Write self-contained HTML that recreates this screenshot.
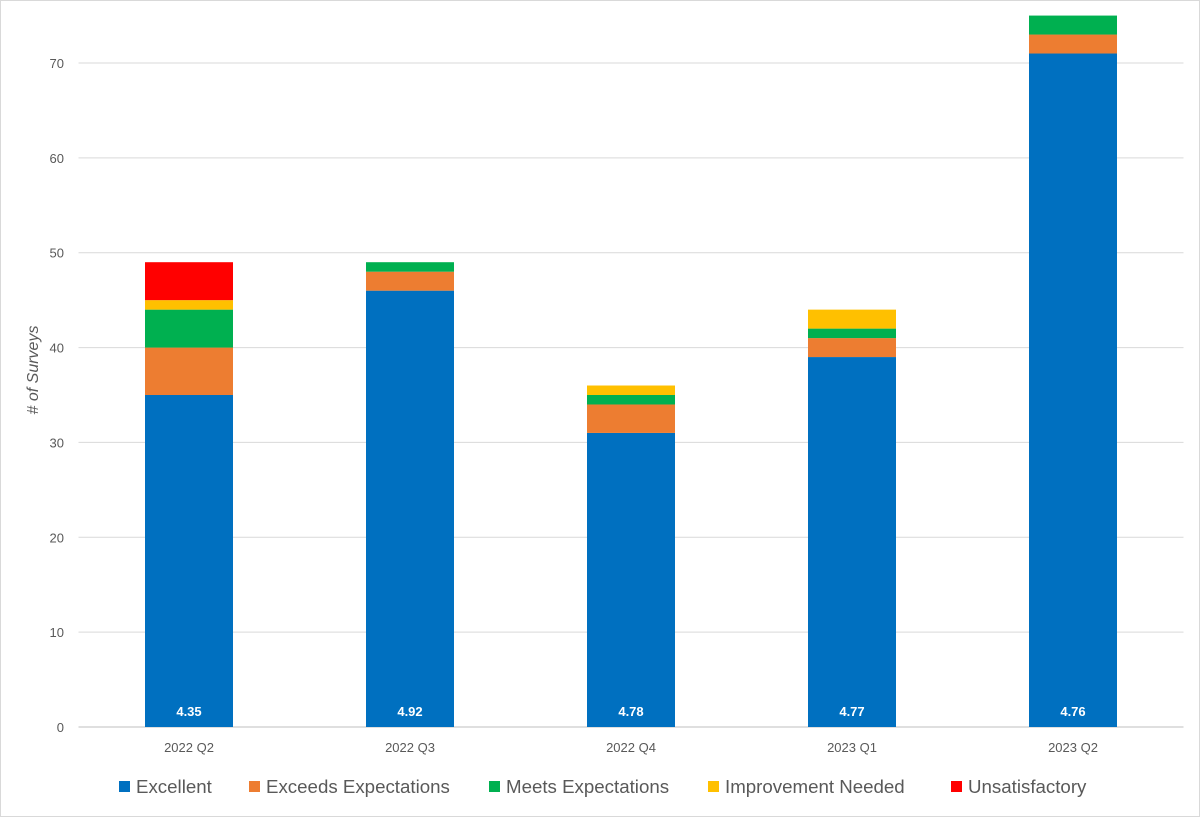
<!DOCTYPE html>
<html><head><meta charset="utf-8"><style>
body{margin:0;background:#fff;}
svg{display:block;font-family:"Liberation Sans",sans-serif;}
</style></head><body>
<svg id="chart" width="1200" height="818">
<rect x="0.5" y="0.5" width="1199" height="816" fill="#fff" stroke="#d9d9d9"/>
<g id="grid"></g><g id="bars"></g><g id="labels"></g>
<text transform="translate(38,370) rotate(-90)" text-anchor="middle" font-size="16" font-style="italic" fill="#595959"># of Surveys</text>
<g id="legend"></g>
</svg>
<script>
const categories=["2022 Q2","2022 Q3","2022 Q4","2023 Q1","2023 Q2"];
const seriesNames=["Excellent","Exceeds Expectations","Meets Expectations","Improvement Needed","Unsatisfactory"];
const excellent=[35,46,31,39,71];
const exceeds=[5,2,3,2,2];
const meets=[4,1,1,1,2];
const improvement=[1,0,1,2,0];
const unsatisfactory=[4,0,0,0,0];
const avgScores=["4.35","4.92","4.78","4.77","4.76"];
const yTicks=[0,10,20,30,40,50,60,70];
const colors=["#0070c0","#ed7d31","#00b050","#ffc000","#ff0000"];
const series=[excellent,exceeds,meets,improvement,unsatisfactory];
const NS="http://www.w3.org/2000/svg";
const left=78.5,right=1183.5,y0=727,pxPerUnit=(727-63)/70;
const yS=v=>y0-v*pxPerUnit;
const bw=(right-left)/categories.length;
const xS=i=>left+bw*(i+0.5);
function mk(tag,attrs,parent){const e=document.createElementNS(NS,tag);for(const k in attrs)e.setAttribute(k,attrs[k]);parent.appendChild(e);return e;}
const grid=document.getElementById('grid'),bars=document.getElementById('bars'),labels=document.getElementById('labels'),legend=document.getElementById('legend');
yTicks.forEach(t=>{
  const l=mk('line',{x1:left,x2:right,y1:yS(t),y2:yS(t),stroke:t===0?'#bfbfbf':'#d9d9d9','stroke-width':1},grid);
  
  
  const tx=mk('text',{x:64,y:yS(t)+5,'text-anchor':'end','font-size':13,fill:'#595959'},grid);
  tx.textContent=t;
  
  
});
categories.forEach((c,i)=>{
  let acc=0;
  series.forEach((s,j)=>{
    const v=s[i];if(!v)return;
    const r=mk('rect',{x:xS(i)-44,width:88,y:yS(acc+v),height:v*pxPerUnit,fill:colors[j]},bars);
    
    
    acc+=v;
  });
  const t=mk('text',{x:xS(i),y:716,'text-anchor':'middle','font-size':13,'font-weight':'bold',fill:'#fff'},labels);
  t.textContent=avgScores[i];
  
  
  const xt=mk('text',{x:xS(i),y:752,'text-anchor':'middle','font-size':13,fill:'#595959'},labels);
  xt.textContent=c;
  
  
});
const legX=[119,249,489,708,951];
seriesNames.forEach((n,j)=>{
  const g=mk('g',{},legend);
  
  
  mk('rect',{x:legX[j],y:781,width:11,height:11,fill:colors[j]},g);
  const t=mk('text',{x:legX[j]+17,y:793,'font-size':18.7,fill:'#595959'},g);
  t.textContent=n;
});
</script>
</body></html>
